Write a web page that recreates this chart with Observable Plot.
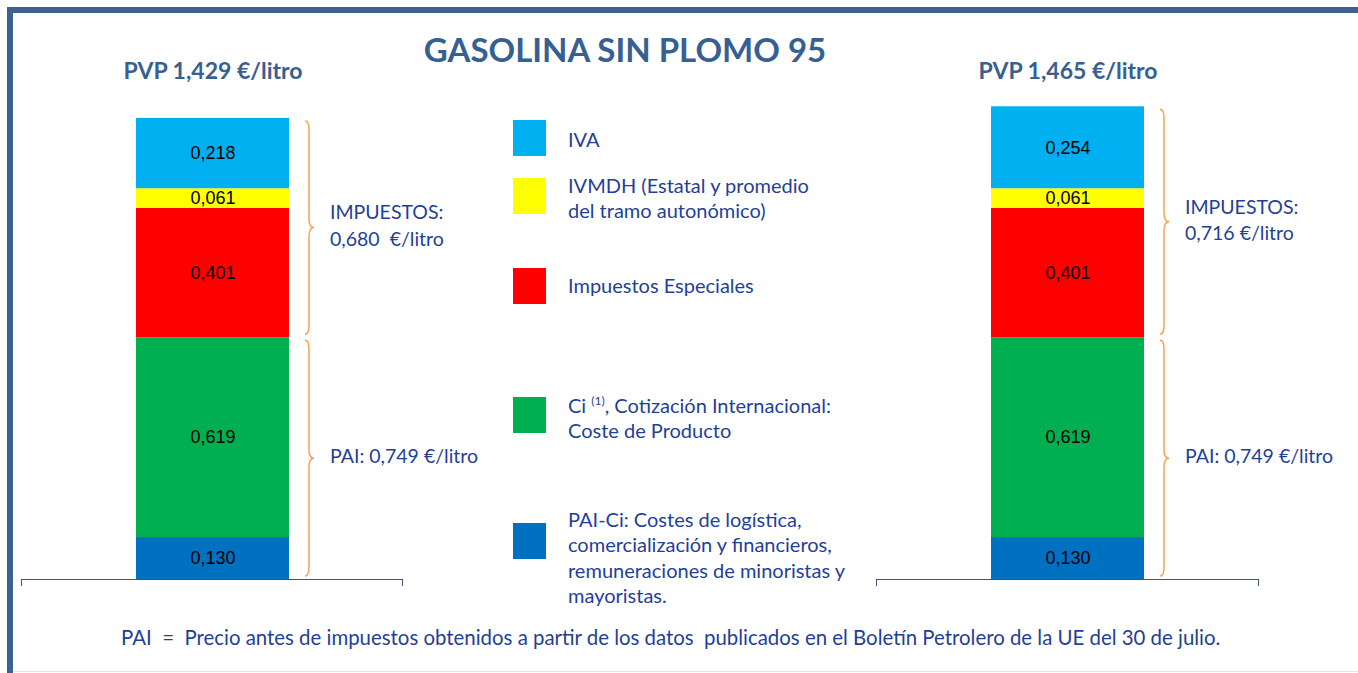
<!DOCTYPE html>
<html>
<head>
<meta charset="utf-8">
<script src="https://cdn.jsdelivr.net/npm/d3@7"></script>
<script src="https://cdn.jsdelivr.net/npm/@observablehq/plot@0.6"></script>
<style>
  html, body { margin: 0; padding: 0; background: #fff; }
  #page { position: relative; width: 1358px; height: 673px; overflow: hidden; font-family: Lato, "Open Sans", sans-serif; background: #fff; }
  .frame-top { position: absolute; left: 7px; top: 7px; width: 1351px; height: 6px; background: #3c6291; }
  .frame-left { position: absolute; left: 7px; top: 7px; width: 6px; height: 666px; background: #3c6291; }
  .bottom-line { position: absolute; left: 13px; top: 671px; width: 1345px; height: 1px; background: #e4e4e4; }
  #title { position: absolute; left: 0; width: 1250px; top: 29.5px; text-align: center; font-weight: bold; font-size: 33px; line-height: 1.2; color: #376092; }
  .chart { position: absolute; top: 0; }
  .chart svg { overflow: visible; background: transparent; }
  .chart svg text { white-space: pre; }
  .sw { position: absolute; left: 513px; width: 33px; height: 36px; }
  .lg { position: absolute; left: 568px; font-size: 20px; line-height: 25.5px; color: #1f3f9a; white-space: nowrap; }
  .lg sup { font-size: 12px; vertical-align: 8px; line-height: 0; }
  #foot { position: absolute; left: 121px; top: 625px; font-size: 20.4px; line-height: 1.2; color: #1f3f9a; white-space: pre; }
</style>
</head>
<body>
<div id="page">
  <div class="frame-top"></div>
  <div class="frame-left"></div>
  <div class="bottom-line"></div>
  <div id="title">GASOLINA SIN PLOMO 95</div>
  <div id="left" class="chart" style="left:0px"></div>
  <div id="legend"></div>
  <div id="right" class="chart" style="left:855px"></div>
  <div id="foot"></div>
</div>
<script>
// ---- data ----
const periodos = ["anterior", "actual"];
const componentes = ["PAI-Ci", "Ci", "Impuestos Especiales", "IVMDH", "IVA"]; // bottom → top
const valoresAnterior = [0.130, 0.619, 0.401, 0.061, 0.218];
const valoresActual   = [0.130, 0.619, 0.401, 0.061, 0.254];
const colores = ["#0070c0", "#00b050", "#ff0000", "#ffff00", "#00b0f0"];
const componentesPAI = ["PAI-Ci", "Ci"];
const leyendaTextos = {
  "IVA": "IVA",
  "IVMDH": "IVMDH (Estatal y promedio<br>del tramo autonómico)",
  "Impuestos Especiales": "Impuestos Especiales",
  "Ci": "Ci <sup>(1)</sup>, Cotización Internacional:<br>Coste de Producto",
  "PAI-Ci": "PAI-Ci: Costes de logística,<br>comercialización y financieros,<br>remuneraciones de minoristas y<br>mayoristas."
};
const leyendaOrden = ["IVA", "IVMDH", "Impuestos Especiales", "Ci", "PAI-Ci"];
const tituloNota = "PAI  =  Precio antes de impuestos obtenidos a partir de los datos  publicados en el Boletín Petrolero de la UE del 30 de julio.";
const separadorImpuestos = ["  ", " "]; // spacing used in each IMPUESTOS label

// ---- layout (pixels) ----
const legendTops = {"IVA": [120, 126.5], "IVMDH": [178, 172.5], "Impuestos Especiales": [268, 272.5], "Ci": [397, 392.5], "PAI-Ci": [523, 506.5]};

const fmt = v => d3.format(".3f")(v).replace(".", ",");
const textBlue = "#1f3f9a";
const braceColor = "#f8a150";

function buildRows(periodo, valores) {
  return componentes.map((c, i) => ({periodo, componente: c, valor: valores[i]}));
}

function braceMark(groups) {
  return (index, scales, values, dims) => {
    const x = scales.x, y = scales.y;
    const bw = typeof x.bandwidth === "function" ? x.bandwidth() : x.bandwidth;
    const g = d3.create("svg:g").attr("fill", "none").attr("stroke", braceColor).attr("stroke-width", 1.5);
    for (const b of groups) {
      const edge = x(b.periodo) + bw;
      const x0 = edge + 16, xm = edge + 20, x1 = edge + 25;
      const yt = y(b.y2) + 3, yb = y(b.y1) - 3, ymid = (yt + yb) / 2, r = 9;
      g.append("path").attr("d",
        `M${x0},${yt} Q${xm},${yt} ${xm},${yt + r} L${xm},${ymid - r} Q${xm},${ymid} ${x1},${ymid}` +
        ` Q${xm},${ymid} ${xm},${ymid + r} L${xm},${yb - r} Q${xm},${yb} ${x0},${yb}`);
    }
    // end ticks of the category axis
    const y0 = y(0);
    const l = dims.marginLeft, rr = dims.width - dims.marginRight;
    const t = d3.create("svg:g").attr("stroke", "#44546f").attr("stroke-width", 1);
    t.append("line").attr("x1", l + 0.5).attr("x2", l + 0.5).attr("y1", y0).attr("y2", y0 + 7);
    t.append("line").attr("x1", rr - 0.5).attr("x2", rr - 0.5).attr("y1", y0).attr("y2", y0 + 7);
    const root = d3.create("svg:g");
    root.append(() => g.node());
    root.append(() => t.node());
    return root.node();
  };
}

function chart(periodo, valores, sep, width, marginRight) {
  const rows = buildRows(periodo, valores);
  const total = d3.sum(valores);
  const pai = d3.sum(rows.filter(r => componentesPAI.includes(r.componente)), r => r.valor);
  const imp = total - pai;
  const groups = [
    {periodo, y1: pai, y2: total, label: `IMPUESTOS:\n${fmt(imp)}${sep}€/litro`},
    {periodo, y1: 0, y2: pai, label: `PAI: ${fmt(pai)} €/litro`}
  ].map(d => ({...d, mid: (d.y1 + d.y2) / 2}));
  return Plot.plot({
    width, height: 673,
    marginLeft: 21, marginRight, marginTop: 95, marginBottom: 94,
    style: {background: "transparent", overflow: "visible"},
    x: {domain: [periodo], padding: 0.4286},
    y: {domain: [0, 1.5], axis: null},
    color: {domain: componentes, range: colores},
    marks: [
      Plot.barY(rows, {x: "periodo", y: "valor", fill: "componente"}),
      Plot.text(rows, Plot.stackY({x: "periodo", y: "valor", z: "componente",
        text: d => fmt(d.valor), fill: "#000", fontSize: 18, fontFamily: "Liberation Sans, Arial, sans-serif"})),
      Plot.ruleY([0], {stroke: "#44546f", strokeWidth: 1}),
      Plot.axisX({anchor: "top", tickSize: 0, tickPadding: 17, fontSize: 23, fontWeight: "bold",
        fill: "#376092", fontFamily: "Lato, sans-serif", label: null,
        tickFormat: () => `PVP ${fmt(total)} €/litro`}),
      braceMark(groups),
      Plot.text(groups, {x: "periodo", y: "mid", text: "label", dx: 117, dy: -4, textAnchor: "start",
        lineHeight: 1.35, fontSize: 19.5, fill: textBlue, fontFamily: "Lato, sans-serif"})
    ]
  });
}

document.getElementById("left").append(chart(periodos[0], valoresAnterior, separadorImpuestos[0], 500, 97));
document.getElementById("right").append(chart(periodos[1], valoresActual, separadorImpuestos[1], 503, 99));

// legend
const legend = document.getElementById("legend");
for (const c of leyendaOrden) {
  const [swTop, txTop] = legendTops[c];
  const sw = document.createElement("div");
  sw.className = "sw"; sw.style.top = swTop + "px";
  sw.style.background = colores[componentes.indexOf(c)];
  legend.append(sw);
  const tx = document.createElement("div");
  tx.className = "lg"; tx.style.top = txTop + "px";
  tx.innerHTML = leyendaTextos[c];
  legend.append(tx);
}
document.getElementById("foot").textContent = tituloNota;
</script>
</body>
</html>
